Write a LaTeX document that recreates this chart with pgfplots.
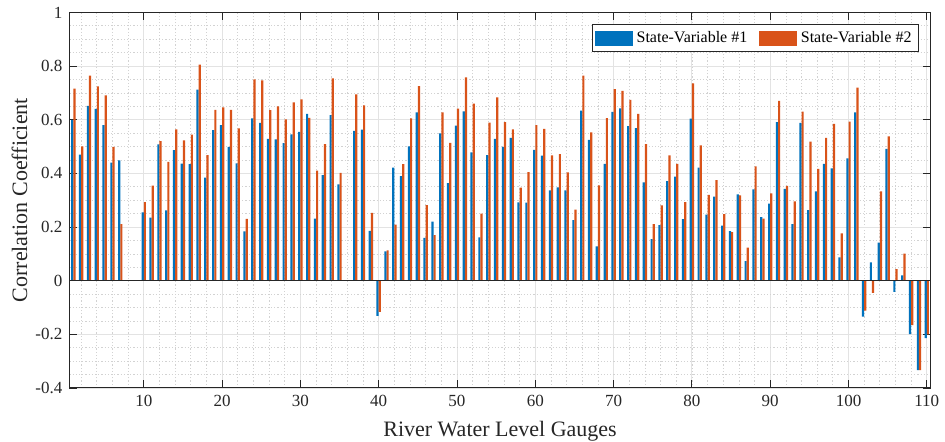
\documentclass[border=0pt]{standalone}
\usepackage{fontspec}
\setmainfont{Liberation Serif}
\usepackage{pgfplots}
\pgfplotsset{compat=1.18}
\usepackage{pgfplotstable}
\usetikzlibrary{calc}

\definecolor{c1}{HTML}{0072BD}
\definecolor{c2}{HTML}{D95319}
\definecolor{axgray}{gray}{0.15}

\pgfplotstableread{
g  a      b
1  0.599  0.716
2  0.470  0.501
3  0.652  0.764
4  0.640  0.724
5  0.580  0.691
6  0.440  0.499
7  0.448  0.211
8  0      0
9  0      0
10 0.255  0.293
11 0.235  0.354
12 0.508  0.520
13 0.262  0.443
14 0.487  0.564
15 0.436  0.523
16 0.434  0.544
17 0.712  0.805
18 0.384  0.468
19 0.561  0.637
20 0.580  0.646
21 0.499  0.637
22 0.437  0.568
23 0.184  0.230
24 0.605  0.750
25 0.588  0.747
26 0.529  0.636
27 0.527  0.650
28 0.513  0.601
29 0.545  0.665
30 0.555  0.676
31 0.622  0.607
32 0.231  0.410
33 0.393  0.509
34 0.617  0.754
35 0.359  0.402
36 0      0
37 0.558  0.694
38 0.563  0.653
39 0.186  0.253
40 -0.131 -0.116
41 0.109  0.113
42 0.421  0.209
43 0.390  0.434
44 0.501  0.605
45 0.627  0.725
46 0.160  0.282
47 0.220  0.170
48 0.549  0.627
49 0.364  0.514
50 0.578  0.641
51 0.631  0.758
52 0.478  0.660
53 0.161  0.250
54 0.468  0.589
55 0.529  0.683
56 0.499  0.591
57 0.532  0.564
58 0.292  0.347
59 0.291  0.405
60 0.488  0.580
61 0.466  0.566
62 0.337  0.467
63 0.348  0.472
64 0.337  0.404
65 0.226  0.265
66 0.634  0.764
67 0.525  0.553
68 0.128  0.355
69 0.435  0.606
70 0.629  0.714
71 0.642  0.707
72 0.576  0.674
73 0.569  0.622
74 0.366  0.509
75 0.155  0.211
76 0.207  0.281
77 0.371  0.467
78 0.388  0.435
79 0.229  0.293
80 0.604  0.735
81 0.421  0.504
82 0.246  0.320
83 0.313  0.375
84 0.205  0.248
85 0.185  0.181
86 0.322  0.318
87 0.073  0.123
88 0.340  0.426
89 0.237  0.231
90 0.287  0.325
91 0.591  0.670
92 0.342  0.353
93 0.211  0.296
94 0.588  0.630
95 0.263  0.518
96 0.333  0.417
97 0.435  0.532
98 0.419  0.584
99 0.087  0.176
100 0.456 0.593
101 0.627 0.720
102 -0.134 -0.112
103 0.068 -0.045
104 0.142 0.333
105 0.491 0.538
106 -0.042 0.043
107 0.020 0.101
108 -0.199 -0.166
109 -0.333 -0.333
110 -0.214 -0.200
}\gauges

\begin{document}
\begin{tikzpicture}
\begin{axis}[
  scale only axis,
  width=430.65pt,
  height=187.8pt,
  xmin=0.5, xmax=110.5,
  ymin=-0.4, ymax=1,
  xtick={10,20,...,110},
  ytick={-0.4,-0.2,0,0.2,0.4,0.6,0.8,1},
  yticklabels={-0.4,-0.2,0,0.2,0.4,0.6,0.8,1},
  minor xtick={2,4,...,108},
  minor ytick={-0.35,-0.3,...,0.96},
  grid=both,
  major grid style={solid, draw=gray!22, line width=0.45pt},
  minor grid style={draw=gray!35, line width=0.35pt, dash pattern=on 0.6pt off 1pt},
  major tick length=3.8pt,
  minor tick length=0pt,
  tick style={axgray, line width=0.4pt},
  axis line style={axgray, line width=0.5pt},
  tick align=inside,
  /pgf/number format/assume math mode=true,
  tick label style={font=\fontsize{8.5}{10}\selectfont, text=axgray},
  xlabel={River Water Level Gauges},
  ylabel={Correlation Coefficient},
  label style={font=\fontsize{11}{13}\selectfont, text=axgray},
  xlabel style={at={(rel axis cs:0.5,0)}, anchor=center, yshift=-21.5pt},
  ylabel style={at={(rel axis cs:0,0.5)}, anchor=center, yshift=25pt},
  legend columns=2,
  legend cell align=left,
  legend style={at={(0.9864,0.9683)}, anchor=north east, draw=axgray, line width=0.5pt,
    fill=white, font=\fontsize{8}{9}\selectfont, inner xsep=1.5pt, inner ysep=1.2pt,
    /tikz/every even column/.append style={column sep=4pt}},
]
  \addplot[ybar, bar width=0.28, bar shift=-0.14, fill=c1, draw=none, forget plot] table[x=g, y=a] {\gauges};
  \addplot[ybar, bar width=0.28, bar shift=0.14, fill=c2, draw=none, forget plot] table[x=g, y=b] {\gauges};
  \addplot[axgray, line width=0.5pt, forget plot] coordinates {(0.5,0) (110.5,0)};
  \addlegendimage{legend image code/.code={\fill[c1] (0pt,-3.5pt) rectangle (18.3pt,3.5pt);}}
  \addlegendentry{State-Variable \#1}
  \addlegendimage{legend image code/.code={\fill[c2] (0pt,-3.5pt) rectangle (18.3pt,3.5pt);}}
  \addlegendentry{State-Variable \#2}
\end{axis}
\pgfresetboundingbox
\path[use as bounding box] ($(current axis.south west)+(-34.7pt,-27pt)$) rectangle ($(current axis.north east)+(7.15pt,6.2pt)$);
\end{tikzpicture}
\end{document}
